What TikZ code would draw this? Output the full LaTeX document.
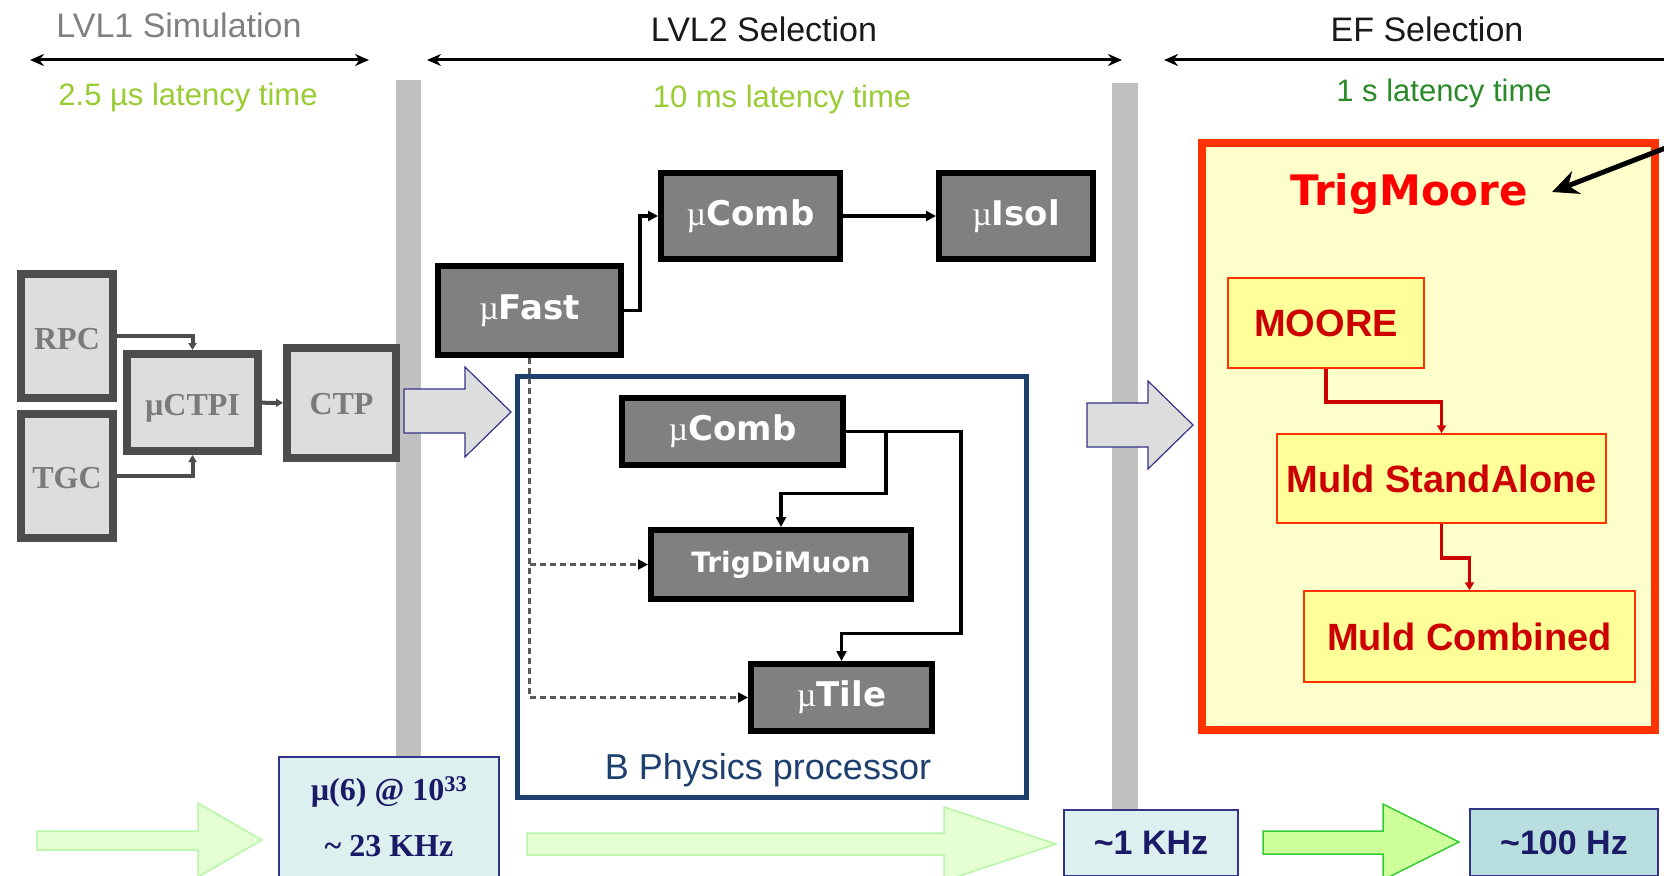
\documentclass[tikz,border=0pt]{standalone}
\usepackage{fontspec}
\setmainfont{Liberation Sans}
\newfontfamily\dejavu{DejaVu Sans}
\newfontfamily\lserif{Liberation Serif}
\usetikzlibrary{arrows.meta,calc}
\newcommand{\fsz}[1]{\fontsize{#1}{#1}\selectfont}
\newcommand{\mymu}{{\lserif\mdseries µ}}
\newcommand{\lowr}[2]{\raisebox{-#1pt}[0pt][0pt]{#2}}
\definecolor{hdrgray}{HTML}{808080}
\definecolor{lgreen}{HTML}{99CC33}
\definecolor{dgreen}{HTML}{2A8A2A}
\definecolor{bargray}{HTML}{C0C0C0}
\definecolor{lonefill}{HTML}{DDDDDD}
\definecolor{loneborder}{HTML}{4D4D4D}
\definecolor{lonetext}{HTML}{7A7A7A}
\definecolor{arrnavy}{HTML}{333388}
\definecolor{bnavy}{HTML}{1F3F6F}
\definecolor{ltwofill}{HTML}{808080}
\definecolor{efred}{HTML}{FF3300}
\definecolor{efyellow}{HTML}{FFFFCC}
\definecolor{boxyellow}{HTML}{FFFF99}
\definecolor{darkred}{HTML}{CC0000}
\definecolor{ratefill}{HTML}{DDF0F0}
\definecolor{ratefilltwo}{HTML}{B8DEE0}
\definecolor{ratetext}{HTML}{1A1A66}
\definecolor{gfill}{HTML}{E4FFD2}
\definecolor{gline}{HTML}{B8F5A8}
\definecolor{gfilltwo}{HTML}{CCFF99}
\definecolor{glinetwo}{HTML}{33CC33}
\begin{document}
\begin{tikzpicture}[x=1pt,y=-1pt,
  hdr/.style={font=\fsz{34}, inner sep=0pt},
  lat/.style={font=\fsz{31}, inner sep=0pt},
  hdrarrow/.style={line width=3pt, black},
  lonebox/.style={draw=loneborder, line width=8pt, fill=lonefill, text=lonetext,
    font=\lserif\bfseries\fsz{32}, inner sep=0pt},
  loneconn/.style={draw=loneborder, line width=4pt, -{Triangle[length=7pt,width=8pt]}},
  ltwobox/.style={draw=black, line width=6pt, fill=ltwofill, text=white,
    font=\dejavu\bfseries\fsz{34}, inner sep=0pt},
  ltwoconn/.style={draw=black, line width=3.5pt, -{Triangle[length=10pt,width=10pt]}},
  dashconn/.style={draw=black!65, line width=2.2pt, dash pattern=on 6pt off 4pt,
    -{Triangle[length=10pt,width=10pt,fill=black,color=black]}},
  blockarrow/.style={draw=arrnavy, line width=1.2pt, fill=lonefill},
  efbox/.style={draw=efred, line width=1.5pt, fill=boxyellow, text=darkred,
    font=\bfseries\fsz{38}, inner sep=0pt},
  redconn/.style={draw=darkred, line width=3.5pt, -{Triangle[length=8pt,width=9pt]}},
  ratebox/.style={draw=arrnavy, line width=2pt, fill=ratefill, text=ratetext, inner sep=0pt},
  garrow/.style={draw=gline, line width=1.5pt, fill=gfill},
  garrowtwo/.style={draw=glinetwo, line width=1.5pt, fill=gfilltwo}
]
\useasboundingbox (0,0) rectangle (1664,875);
\fill[white] (0,0) rectangle (1664,875);

% grey separator bars
\fill[bargray] (396,80) rectangle (421,760);
\fill[bargray] (1112,83) rectangle (1138,812);

% headers
\node[hdr, text=hdrgray] (hOne) at (179,25) {LVL1 Simulation};
\node[hdr, text=black!90] (hTwo) at (764,29) {LVL2 Selection};
\node[hdr, text=black!90] (hThree) at (1427,29) {EF Selection};
\node[lat, text=lgreen] (tOne) at (188,97) {2.5 µs latency time};
\node[lat, text=lgreen] (tTwo) at (782,99) {10 ms latency time};
\node[lat, text=dgreen] (tThree) at (1444,93) {1 s latency time};

\coordinate (aOneL) at (30,60);
\coordinate (aOneR) at (369,60);
\coordinate (aTwoL) at (427,60);
\coordinate (aTwoR) at (1122,60);
\coordinate (aThreeL) at (1164,60);
\coordinate (aThreeR) at (1670,60);
\draw[hdrarrow, {Stealth[length=14pt,width=12pt]}-{Stealth[length=14pt,width=12pt]}] (aOneL) -- (aOneR);
\draw[hdrarrow, {Stealth[length=14pt,width=12pt]}-{Stealth[length=14pt,width=12pt]}] (aTwoL) -- (aTwoR);
\draw[hdrarrow, {Stealth[length=14pt,width=12pt]}-] (aThreeL) -- (aThreeR);

% LVL1
\node[lonebox, minimum width=92pt, minimum height=124pt] (RPC) at (67,336) {\lowr{13}{RPC}};
\node[lonebox, minimum width=92pt, minimum height=124pt] (TGC) at (67,476) {\lowr{12}{TGC}};
\node[lonebox, minimum width=131pt, minimum height=97pt] (CTPI) at (192.5,402.5) {\lowr{13}{µCTPI}};
\node[lonebox, minimum width=109pt, minimum height=110pt] (CTP) at (341.5,403) {\lowr{11}{CTP}};
\draw[loneconn] (RPC) -| (CTPI.north);
\draw[loneconn] (TGC) -| (CTPI.south);
\draw[loneconn] (CTPI) -- (CTP);

% block arrows
\draw[blockarrow] (404,389) -- (465,389) -- (465,367) -- (511,412) -- (465,457) -- (465,433) -- (404,433) -- cycle;
\draw[blockarrow] (1087,403) -- (1148,403) -- (1148,381) -- (1193,425) -- (1148,469) -- (1148,447) -- (1087,447) -- cycle;

% LVL2
\node[ltwobox, minimum width=183pt, minimum height=89pt] (muFast) at (529.5,310.5) {\mymu Fast\hspace{24pt}};
\node[ltwobox, minimum width=179pt, minimum height=86pt] (muComb) at (750.5,216) {\mymu Comb};
\node[ltwobox, minimum width=154pt, minimum height=86pt] (muIsol) at (1016,216) {\mymu Isol};
\draw[ltwoconn] (muFast.east) -- ++(16,0) |- (muComb.west);
\draw[ltwoconn] (muComb) -- (muIsol);

\node[draw=bnavy, line width=5pt, minimum width=509pt, minimum height=421pt, inner sep=0pt] (bPhys) at (772,587) {};
\node[font=\fsz{36}, text=bnavy, inner sep=0pt] (bLabel) at (768,770) {B Physics processor};

\node[ltwobox, minimum width=221pt, minimum height=67pt] (bComb) at (732.5,431.5) {\mymu Comb\hspace{30pt}};
\node[ltwobox, minimum width=260pt, minimum height=69pt, font=\dejavu\bfseries\fsz{28}] (TDM) at (781,564.5) {TrigDiMuon};
\node[ltwobox, minimum width=181pt, minimum height=67pt] (uTile) at (841.5,697.5) {\mymu Tile\hspace{22pt}};
\draw[ltwoconn] (bComb.east) -- ++(40,0) -- ++(0,62) -| (TDM.north);
\draw[ltwoconn] (bComb.east) -- ++(115,0) -- ++(0,202) -| (uTile.north);
\draw[dashconn] (muFast.south) |- (uTile.west);
\draw[dashconn] (muFast.south |- TDM.west) -- (TDM.west);

% EF
\node[draw=efred, line width=8pt, fill=efyellow, minimum width=453pt, minimum height=587pt, inner sep=0pt] (EF) at (1428.5,436.5) {};
\node[font=\dejavu\bfseries\fsz{42}, text=red, inner sep=0pt] (tmTitle) at (1409,194) {TrigMoore};
\node[efbox, minimum width=196pt, minimum height=90pt] (MOORE) at (1326,323) {MOORE};
\node[efbox, minimum width=329pt, minimum height=89pt] (SA) at (1441.5,478.5) {Muld StandAlone};
\node[efbox, minimum width=331pt, minimum height=91pt] (MC) at (1469.5,636.5) {Muld Combined};
\draw[redconn] (MOORE.south) -- ++(0,33) -| (SA.north);
\draw[redconn] (SA.south) -- ++(0,34) -| (MC.north);
\coordinate (ptrStart) at (1668,147);
\coordinate (ptrTip) at (1552,192);
\draw[line width=5pt, -{Stealth[length=26pt,width=24pt]}] (ptrStart) -- (ptrTip);

% rates
\draw[garrow] (37,831) -- (198,831) -- (198,803) -- (262,840) -- (198,877) -- (198,850) -- (37,850) -- cycle;
\draw[garrow] (527,833) -- (944,833) -- (944,807) -- (1056,844) -- (944,881) -- (944,855) -- (527,855) -- cycle;
\draw[garrowtwo] (1263,831) -- (1383,831) -- (1383,804) -- (1459,842) -- (1383,880) -- (1383,854) -- (1263,854) -- cycle;

\node[ratebox, minimum width=220pt, minimum height=120pt, align=center,
  font=\lserif\bfseries\fsz{32}] (rOne) at (389,817) {µ(6) @ 10\textsuperscript{33}\\[24pt]\textasciitilde\ 23 KHz};
\node[ratebox, minimum width=174pt, minimum height=66pt, font=\bfseries\fsz{34}] (rTwo) at (1151,843) {\textasciitilde1 KHz};
\node[ratebox, fill=ratefilltwo, minimum width=188pt, minimum height=67pt, font=\bfseries\fsz{34}] (rThree) at (1564,842.5) {\textasciitilde100 Hz};
\end{tikzpicture}
\end{document}
